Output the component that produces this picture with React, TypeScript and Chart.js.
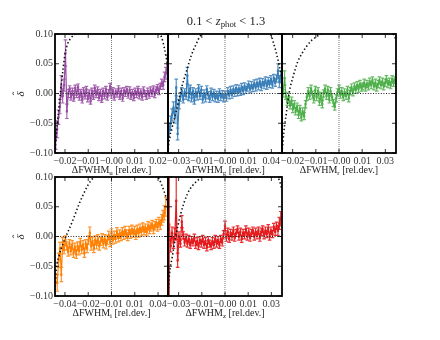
import React, { useEffect, useRef } from "react";
import { Chart, registerables } from "chart.js";
Chart.register(...registerables);

const FONT = "'Liberation Serif', 'DejaVu Serif', serif";

// ---------- shared y axis ----------
const yTickValues = [-0.1, -0.05, 0, 0.05, 0.1];
const yTickLabels = ["−0.10", "−0.05", "0.00", "0.05", "0.10"];

// ---------- panel u (purple) ----------
const uRange = [-0.0243, 0.0243];
const uTicks = [-0.02, -0.01, 0, 0.01, 0.02];
const uTickLabels = ["−0.02", "−0.01", "−0.00", "0.01", "0.02"];
const uX = [
  -0.0240,-0.0234,-0.0228,-0.0222,-0.0216,-0.0210,-0.0204,-0.0198,-0.0192,-0.0186,
  -0.0180,-0.0174,-0.0168,-0.0162,-0.0156,-0.0150,-0.0144,-0.0138,-0.0132,-0.0126,
  -0.0120,-0.0114,-0.0108,-0.0102,-0.0096,-0.0090,-0.0084,-0.0078,-0.0072,-0.0066,
  -0.0060,-0.0054,-0.0048,-0.0042,-0.0036,-0.0030,-0.0024,-0.0018,-0.0012,-0.0006,
  0.0000,0.0006,0.0012,0.0018,0.0024,0.0030,0.0036,0.0042,0.0048,0.0054,
  0.0060,0.0066,0.0072,0.0078,0.0084,0.0090,0.0096,0.0102,0.0108,0.0114,
  0.0120,0.0126,0.0132,0.0138,0.0144,0.0150,0.0156,0.0162,0.0168,0.0174,
  0.0180,0.0186,0.0192,0.0198,0.0204,0.0210,0.0216,0.0222,0.0228,0.0234,
  0.0240];
const uY = [
  -0.078,-0.060,-0.040,-0.022,0.012,-0.004,0.014,0.068,-0.030,0.000,
  0.008,-0.006,0.004,-0.008,0.009,-0.002,0.011,-0.006,0.002,-0.011,
  0.005,-0.004,0.007,-0.009,0.001,-0.013,0.004,-0.005,0.009,-0.002,
  0.006,-0.007,0.002,-0.010,0.004,-0.004,0.007,-0.006,0.001,0.012,
  -0.003,0.005,-0.006,0.003,-0.001,0.008,-0.005,0.004,-0.008,0.005,
  0.000,0.007,-0.003,0.006,-0.005,0.002,-0.007,0.004,-0.002,0.007,
  -0.004,0.003,-0.006,0.006,0.000,-0.005,0.004,-0.003,0.006,0.000,
  0.008,-0.002,0.006,0.010,0.003,0.012,0.018,0.014,0.028,0.034,
  0.050];
const uErr = [
  0.016,0.014,0.012,0.012,0.018,0.012,0.010,0.022,0.012,0.007,
  0.005,0.005,0.005,0.005,0.005,0.005,0.005,0.005,0.005,0.005,
  0.005,0.005,0.005,0.005,0.005,0.005,0.005,0.005,0.005,0.005,
  0.005,0.005,0.005,0.005,0.005,0.005,0.005,0.005,0.005,0.005,
  0.005,0.005,0.005,0.005,0.005,0.005,0.005,0.005,0.005,0.005,
  0.005,0.005,0.005,0.005,0.005,0.005,0.005,0.005,0.005,0.005,
  0.005,0.005,0.005,0.005,0.005,0.005,0.005,0.005,0.005,0.005,
  0.005,0.005,0.005,0.005,0.005,0.005,0.006,0.007,0.008,0.010,
  0.014];
const uCurveX = [-0.0243,-0.0238,-0.0230,-0.0223,-0.0216,-0.0208,-0.0200,-0.0190,-0.0175,-0.0160,-0.0120,-0.0060,0.0000,0.0060,0.0120,0.0170,0.0200,0.0215,0.0228,0.0243];
const uCurveY = [-0.100,-0.070,-0.040,-0.012,0.015,0.042,0.066,0.082,0.093,0.099,0.108,0.115,0.118,0.117,0.112,0.105,0.101,0.095,0.075,0.045];

// ---------- panel g (blue) ----------
const gRange = [-0.045, 0.045];
const gTicks = [-0.0366, -0.0183, 0, 0.0183, 0.0366];
const gTickLabels = ["−0.03", "−0.01", "−0.00", "0.01", "0.04"];
const gX = [
  -0.0440,-0.0429,-0.0418,-0.0407,-0.0396,-0.0385,-0.0374,-0.0363,-0.0352,-0.0341,
  -0.0330,-0.0319,-0.0308,-0.0297,-0.0286,-0.0275,-0.0264,-0.0253,-0.0242,-0.0231,
  -0.0220,-0.0209,-0.0198,-0.0187,-0.0176,-0.0165,-0.0154,-0.0143,-0.0132,-0.0121,
  -0.0110,-0.0099,-0.0088,-0.0077,-0.0066,-0.0055,-0.0044,-0.0033,-0.0022,-0.0011,
  0.0000,0.0011,0.0022,0.0033,0.0044,0.0055,0.0066,0.0077,0.0088,0.0099,
  0.0110,0.0121,0.0132,0.0143,0.0154,0.0165,0.0176,0.0187,0.0198,0.0209,
  0.0220,0.0231,0.0242,0.0253,0.0264,0.0275,0.0286,0.0297,0.0308,0.0319,
  0.0330,0.0341,0.0352,0.0363,0.0374,0.0385,0.0396,0.0407,0.0418,0.0429,
  0.0440];
const gY = [
  -0.062,-0.050,-0.036,-0.024,-0.040,0.010,-0.068,-0.018,-0.006,0.004,
  -0.010,0.002,-0.004,0.030,-0.006,0.008,-0.008,0.004,-0.012,0.002,
  -0.005,0.009,-0.004,0.006,-0.010,0.000,-0.008,0.007,-0.003,-0.009,
  0.003,-0.006,0.001,-0.008,-0.002,-0.009,0.002,-0.006,-0.001,-0.008,
  -0.002,-0.007,0.004,-0.003,0.006,-0.002,0.007,0.001,0.009,0.002,
  0.008,0.003,0.011,0.004,0.012,0.006,0.010,0.015,0.007,0.014,
  0.009,0.017,0.010,0.018,0.012,0.020,0.011,0.019,0.014,0.022,
  0.013,0.021,0.016,0.024,0.015,0.026,0.018,0.025,0.038,0.020,
  0.028];
const gErr = [
  0.012,0.012,0.010,0.010,0.010,0.014,0.010,0.008,0.007,0.006,
  0.006,0.006,0.006,0.014,0.006,0.006,0.006,0.006,0.006,0.006,
  0.006,0.006,0.006,0.006,0.006,0.006,0.006,0.006,0.006,0.006,
  0.006,0.006,0.006,0.006,0.006,0.006,0.006,0.006,0.006,0.006,
  0.006,0.006,0.006,0.006,0.006,0.006,0.006,0.006,0.006,0.006,
  0.006,0.006,0.006,0.006,0.006,0.006,0.006,0.006,0.006,0.006,
  0.006,0.006,0.006,0.006,0.006,0.006,0.006,0.006,0.006,0.006,
  0.006,0.006,0.006,0.006,0.006,0.006,0.006,0.006,0.012,0.010,
  0.010];
const gCurveX = [-0.0450,-0.0443,-0.0415,-0.0386,-0.0345,-0.0306,-0.0266,-0.0230,-0.0200,-0.0150,0.0000,0.0150,0.0300,0.0363,0.0383,0.0403,0.0427,0.0450];
const gCurveY = [-0.100,-0.082,-0.055,-0.031,0.008,0.036,0.064,0.082,0.095,0.106,0.118,0.114,0.104,0.098,0.085,0.070,0.048,0.025];

// ---------- panel r (green) ----------
const rRange = [-0.031, 0.031];
const rTicks = [-0.0252, -0.0126, 0, 0.0126, 0.0252];
const rTickLabels = ["−0.02", "−0.01", "−0.00", "0.01", "0.03"];
const rX = [
  -0.0304,-0.0296,-0.0289,-0.0281,-0.0274,-0.0266,-0.0258,-0.0251,-0.0243,-0.0236,
  -0.0228,-0.0220,-0.0213,-0.0205,-0.0198,-0.0190,-0.0182,-0.0175,-0.0167,-0.0160,
  -0.0152,-0.0144,-0.0137,-0.0129,-0.0122,-0.0114,-0.0106,-0.0099,-0.0091,-0.0084,
  -0.0076,-0.0068,-0.0061,-0.0053,-0.0046,-0.0038,-0.0030,-0.0023,-0.0015,-0.0008,
  0.0000,0.0008,0.0015,0.0023,0.0030,0.0038,0.0046,0.0053,0.0061,0.0068,
  0.0076,0.0084,0.0091,0.0099,0.0106,0.0114,0.0122,0.0129,0.0137,0.0144,
  0.0152,0.0160,0.0167,0.0175,0.0182,0.0190,0.0198,0.0205,0.0213,0.0220,
  0.0228,0.0236,0.0243,0.0251,0.0258,0.0266,0.0274,0.0281,0.0289,0.0296,
  0.0304];
const rY = [
  0.000,0.026,-0.004,-0.014,-0.006,-0.020,-0.012,-0.026,-0.018,-0.030,
  -0.022,-0.036,-0.026,-0.040,-0.030,-0.038,-0.018,-0.006,0.004,-0.004,
  0.008,-0.002,-0.010,0.006,-0.006,0.004,-0.014,-0.004,-0.018,0.000,
  0.008,-0.004,0.006,-0.010,0.004,-0.006,-0.016,-0.022,-0.008,0.002,
  0.008,-0.002,0.004,-0.006,0.002,-0.004,0.006,-0.008,0.004,0.010,
  0.002,0.012,0.006,0.014,0.008,0.016,0.010,0.012,0.018,0.010,
  0.016,0.012,0.020,0.014,0.022,0.012,0.018,0.010,0.016,0.022,
  0.014,0.020,0.012,0.018,0.024,0.016,0.020,0.014,0.024,0.018,
  0.022];
const rErr = [
  0.006,0.012,0.006,0.006,0.006,0.006,0.006,0.006,0.006,0.006,
  0.006,0.006,0.006,0.006,0.006,0.006,0.006,0.006,0.006,0.006,
  0.006,0.006,0.006,0.006,0.006,0.006,0.006,0.006,0.006,0.006,
  0.006,0.006,0.006,0.006,0.006,0.006,0.006,0.006,0.006,0.006,
  0.006,0.006,0.006,0.006,0.006,0.006,0.006,0.006,0.006,0.006,
  0.006,0.006,0.006,0.006,0.006,0.006,0.006,0.006,0.006,0.006,
  0.006,0.006,0.006,0.006,0.006,0.006,0.006,0.006,0.006,0.006,
  0.006,0.006,0.006,0.006,0.006,0.006,0.006,0.006,0.006,0.006,
  0.006];
const rCurveX = [-0.0310,-0.0300,-0.0285,-0.0270,-0.0248,-0.0225,-0.0200,-0.0179,-0.0150,-0.0124,-0.0097,0.0000,0.0150,0.0280,0.0300,0.0310];
const rCurveY = [-0.100,-0.065,-0.030,0.003,0.030,0.053,0.068,0.078,0.089,0.095,0.100,0.112,0.112,0.104,0.098,0.090];

// ---------- panel i (orange) ----------
const iRange = [-0.05, 0.05];
const iTicks = [-0.0412, -0.0206, 0, 0.0206, 0.0412];
const iTickLabels = ["−0.04", "−0.02", "−0.01", "0.01", "0.04"];
const iX = [
  -0.0480,-0.0468,-0.0456,-0.0444,-0.0432,-0.0420,-0.0408,-0.0396,-0.0384,-0.0372,
  -0.0360,-0.0348,-0.0336,-0.0324,-0.0312,-0.0300,-0.0288,-0.0276,-0.0264,-0.0252,
  -0.0240,-0.0228,-0.0216,-0.0204,-0.0192,-0.0180,-0.0168,-0.0156,-0.0144,-0.0132,
  -0.0120,-0.0108,-0.0096,-0.0084,-0.0072,-0.0060,-0.0048,-0.0036,-0.0024,-0.0012,
  0.0000,0.0012,0.0024,0.0036,0.0048,0.0060,0.0072,0.0084,0.0096,0.0108,
  0.0120,0.0132,0.0144,0.0156,0.0168,0.0180,0.0192,0.0204,0.0216,0.0228,
  0.0240,0.0252,0.0264,0.0276,0.0288,0.0300,0.0312,0.0324,0.0336,0.0348,
  0.0360,0.0372,0.0384,0.0396,0.0408,0.0420,0.0432,0.0444,0.0456,0.0468,
  0.0480];
const iY = [
  -0.078,-0.040,-0.020,-0.064,-0.010,-0.022,-0.006,-0.016,-0.026,-0.012,
  -0.024,-0.014,-0.028,-0.018,-0.030,-0.016,-0.024,-0.010,-0.022,-0.014,
  -0.028,-0.012,-0.020,-0.006,0.006,-0.016,-0.008,-0.020,-0.006,-0.014,
  -0.004,-0.016,-0.008,-0.002,-0.012,-0.004,-0.014,-0.006,0.002,-0.010,
  0.006,-0.006,0.002,-0.004,0.008,-0.002,0.004,0.000,0.008,0.002,
  0.010,0.004,0.000,0.010,0.004,0.012,0.006,0.010,0.002,0.012,
  0.006,0.014,0.008,0.016,0.010,0.014,0.008,0.018,0.012,0.016,
  0.020,0.012,0.018,0.022,0.016,0.024,0.020,0.028,0.034,0.040,
  0.050];
const iErr = [
  0.014,0.012,0.010,0.012,0.008,0.007,0.007,0.007,0.007,0.007,
  0.007,0.007,0.007,0.007,0.007,0.007,0.007,0.007,0.007,0.007,
  0.007,0.007,0.007,0.007,0.010,0.007,0.007,0.007,0.007,0.007,
  0.007,0.007,0.007,0.007,0.007,0.007,0.007,0.007,0.007,0.007,
  0.007,0.007,0.007,0.007,0.007,0.007,0.007,0.007,0.007,0.007,
  0.007,0.007,0.007,0.007,0.007,0.007,0.007,0.007,0.007,0.007,
  0.007,0.007,0.007,0.007,0.007,0.007,0.007,0.007,0.007,0.007,
  0.007,0.007,0.007,0.007,0.007,0.008,0.008,0.009,0.010,0.012,
  0.016];
const iCurveX = [-0.0500,-0.0488,-0.0462,-0.0433,-0.0403,-0.0345,-0.0286,-0.0226,-0.0182,-0.0120,0.0000,0.0200,0.0380,0.0421,0.0445,0.0465,0.0500];
const iCurveY = [-0.090,-0.055,-0.031,-0.014,0.000,0.026,0.055,0.080,0.094,0.105,0.115,0.114,0.104,0.097,0.086,0.076,0.055];

// ---------- panel z (red) ----------
const zRange = [-0.045, 0.045];
const zTicks = [-0.0366, -0.0183, 0, 0.0183, 0.0366];
const zTickLabels = ["−0.03", "−0.01", "−0.00", "0.01", "0.03"];
const zX = [
  -0.0440,-0.0429,-0.0418,-0.0407,-0.0396,-0.0385,-0.0374,-0.0363,-0.0352,-0.0341,
  -0.0330,-0.0319,-0.0308,-0.0297,-0.0286,-0.0275,-0.0264,-0.0253,-0.0242,-0.0231,
  -0.0220,-0.0209,-0.0198,-0.0187,-0.0176,-0.0165,-0.0154,-0.0143,-0.0132,-0.0121,
  -0.0110,-0.0099,-0.0088,-0.0077,-0.0066,-0.0055,-0.0044,-0.0033,-0.0022,-0.0011,
  0.0000,0.0011,0.0022,0.0033,0.0044,0.0055,0.0066,0.0077,0.0088,0.0099,
  0.0110,0.0121,0.0132,0.0143,0.0154,0.0165,0.0176,0.0187,0.0198,0.0209,
  0.0220,0.0231,0.0242,0.0253,0.0264,0.0275,0.0286,0.0297,0.0308,0.0319,
  0.0330,0.0341,0.0352,0.0363,0.0374,0.0385,0.0396,0.0407,0.0418,0.0429,
  0.0440];
const zY = [
  0.020,-0.016,0.006,-0.010,0.004,0.060,-0.040,0.000,-0.012,0.025,
  0.002,-0.010,-0.002,-0.012,-0.004,-0.014,-0.006,-0.010,-0.002,-0.014,
  -0.008,-0.016,-0.006,-0.012,-0.004,-0.014,-0.008,-0.018,-0.006,-0.012,
  -0.016,-0.008,-0.014,-0.004,-0.012,-0.006,-0.014,-0.004,-0.010,0.004,
  0.018,-0.002,0.008,-0.004,0.006,0.000,0.010,-0.002,0.006,0.012,
  0.000,0.008,-0.004,0.006,0.002,0.012,0.000,0.008,-0.002,0.006,
  0.010,0.000,0.008,0.002,0.010,-0.002,0.008,0.012,0.002,0.010,
  0.004,0.014,0.000,0.010,0.004,0.016,0.008,0.018,0.010,0.022,
  0.030];
const zErr = [
  0.150,0.010,0.010,0.010,0.010,0.065,0.012,0.008,0.006,0.010,
  0.006,0.006,0.006,0.006,0.006,0.006,0.006,0.006,0.006,0.006,
  0.006,0.006,0.006,0.006,0.006,0.006,0.006,0.006,0.006,0.006,
  0.006,0.006,0.006,0.006,0.006,0.006,0.006,0.006,0.006,0.006,
  0.008,0.006,0.006,0.006,0.006,0.006,0.006,0.006,0.006,0.006,
  0.006,0.006,0.006,0.006,0.006,0.006,0.006,0.006,0.006,0.006,
  0.006,0.006,0.006,0.006,0.006,0.006,0.006,0.006,0.006,0.006,
  0.006,0.006,0.006,0.006,0.006,0.006,0.006,0.006,0.008,0.010,
  0.012];
const zCurveX = [-0.0450,-0.0438,-0.0417,-0.0391,-0.0351,-0.0298,-0.0258,-0.0206,-0.0150,0.0000,0.0200,0.0400,0.0430,0.0450];
const zCurveY = [-0.100,-0.063,-0.035,-0.002,0.037,0.071,0.085,0.096,0.105,0.115,0.114,0.104,0.094,0.078];

// ---------- layout (pixel boxes of plot areas: left, top, right, bottom) ----------
const panels = [
  { band: "u", xs: uX, ys: uY, errs: uErr, cx: uCurveX, cy: uCurveY, range: uRange, ticks: uTicks, labels: uTickLabels, color: "#984ea3", err: "rgba(152,78,163,0.85)", box: [55, 34, 168, 153], showY: true },
  { band: "g", xs: gX, ys: gY, errs: gErr, cx: gCurveX, cy: gCurveY, range: gRange, ticks: gTicks, labels: gTickLabels, color: "#377eb8", err: "rgba(55,126,184,0.85)", box: [168, 34, 282, 153], showY: false },
  { band: "r", xs: rX, ys: rY, errs: rErr, cx: rCurveX, cy: rCurveY, range: rRange, ticks: rTicks, labels: rTickLabels, color: "#4daf4a", err: "rgba(77,175,74,0.85)", box: [282, 34, 396, 153], showY: false },
  { band: "i", xs: iX, ys: iY, errs: iErr, cx: iCurveX, cy: iCurveY, range: iRange, ticks: iTicks, labels: iTickLabels, color: "#ff7f00", err: "rgba(255,127,0,0.85)", box: [55, 177, 168, 296], showY: true },
  { band: "z", xs: zX, ys: zY, errs: zErr, cx: zCurveX, cy: zCurveY, range: zRange, ticks: zTicks, labels: zTickLabels, color: "#e41a1c", err: "rgba(228,26,28,0.9)", box: [168, 177, 282, 296], showY: false },
];

const W = 440;
const H = 340;
const Y_AXIS_W = 30;
const X_AXIS_H = 14;

const errorBarPlugin = {
  id: "errorBars",
  beforeDatasetsDraw(chart: any) {
    const { ctx, chartArea: ca } = chart;
    const xs = chart.scales.x;
    const ys = chart.scales.y;
    ctx.save();
    ctx.beginPath();
    ctx.rect(ca.left, ca.top, ca.right - ca.left, ca.bottom - ca.top);
    ctx.clip();
    chart.data.datasets.forEach((ds: any) => {
      if (!ds.errors) return;
      ctx.strokeStyle = ds.errorColor;
      ctx.lineWidth = 1.2;
      ds.data.forEach((p: any, i: number) => {
        const e = ds.errors[i];
        const px = xs.getPixelForValue(p.x);
        const y1 = ys.getPixelForValue(p.y - e);
        const y2 = ys.getPixelForValue(p.y + e);
        ctx.beginPath();
        ctx.moveTo(px, y1);
        ctx.lineTo(px, y2);
        ctx.moveTo(px - 1.8, y1);
        ctx.lineTo(px + 1.8, y1);
        ctx.moveTo(px - 1.8, y2);
        ctx.lineTo(px + 1.8, y2);
        ctx.stroke();
      });
    });
    ctx.restore();
  },
};

function makeFramePlugin(xTicks: number[]) {
  return {
    id: "frame",
    afterDraw(chart: any) {
      const { ctx, chartArea: ca } = chart;
      const xs = chart.scales.x;
      const ys = chart.scales.y;
      ctx.save();
      ctx.strokeStyle = "#000";
      ctx.lineWidth = 0.8;
      ctx.beginPath();
      xTicks.forEach((v) => {
        const p = xs.getPixelForValue(v);
        ctx.moveTo(p, ca.bottom);
        ctx.lineTo(p, ca.bottom - 4);
        ctx.moveTo(p, ca.top);
        ctx.lineTo(p, ca.top + 4);
      });
      yTickValues.forEach((v) => {
        const p = ys.getPixelForValue(v);
        ctx.moveTo(ca.left, p);
        ctx.lineTo(ca.left + 4, p);
        ctx.moveTo(ca.right, p);
        ctx.lineTo(ca.right - 4, p);
      });
      ctx.stroke();
      ctx.lineWidth = 1.8;
      ctx.strokeRect(ca.left, ca.top, ca.right - ca.left, ca.bottom - ca.top);
      ctx.restore();
    },
  };
}

function Panel({ p }: { p: any }) {
  const ref = useRef<HTMLCanvasElement>(null);
  useEffect(() => {
    const canvas = ref.current;
    if (!canvas) return;
    const [L, T, R, B] = p.box;
    const chart = new Chart(canvas, {
      type: "line",
      data: {
        datasets: [
          {
            data: p.cx.map((x: number, i: number) => ({ x, y: p.cy[i] })),
            borderColor: "#111",
            borderWidth: 1.6,
            borderDash: [1.4, 2.4],
            pointRadius: 0,
            cubicInterpolationMode: "monotone",
            clip: 0,
          },
          {
            data: [{ x: p.range[0], y: 0 }, { x: p.range[1], y: 0 }],
            borderColor: "#222",
            borderWidth: 1,
            borderDash: [1, 1.6],
            pointRadius: 0,
            clip: 0,
          },
          {
            data: [{ x: 0, y: yTickValues[0] }, { x: 0, y: yTickValues[yTickValues.length - 1] }],
            borderColor: "#777",
            borderWidth: 1,
            borderDash: [1, 1],
            pointRadius: 0,
            clip: 0,
          },
          {
            data: p.xs.map((x: number, i: number) => ({ x, y: p.ys[i] })),
            errors: p.errs,
            errorColor: p.err,
            borderColor: p.color,
            borderWidth: 1.2,
            pointRadius: 1.6,
            pointStyle: "rect",
            pointBackgroundColor: p.color,
            pointBorderColor: p.color,
            pointBorderWidth: 0,
            tension: 0,
            clip: 0,
          } as any,
        ],
      },
      options: {
        animation: false,
        responsive: false,
        events: [],
        layout: { padding: { left: L - Y_AXIS_W, top: T, right: W - R, bottom: H - B - X_AXIS_H } },
        plugins: { legend: { display: false }, tooltip: { enabled: false } },
        scales: {
          x: {
            type: "linear",
            min: p.range[0],
            max: p.range[1],
            grid: { display: false, drawTicks: false },
            border: { display: false },
            afterBuildTicks: (s: any) => {
              s.ticks = p.ticks.map((v: number) => ({ value: v }));
            },
            afterFit: (s: any) => {
              s.height = X_AXIS_H;
            },
            ticks: {
              autoSkip: false,
              maxRotation: 0,
              minRotation: 0,
              padding: 2,
              color: "#333",
              font: { family: FONT, size: 10 },
              callback: (_v: any, i: number) => p.labels[i],
            },
          },
          y: {
            type: "linear",
            min: yTickValues[0],
            max: yTickValues[yTickValues.length - 1],
            grid: { display: false, drawTicks: false },
            border: { display: false },
            afterBuildTicks: (s: any) => {
              s.ticks = yTickValues.map((v) => ({ value: v }));
            },
            afterFit: (s: any) => {
              s.width = Y_AXIS_W;
            },
            ticks: {
              display: p.showY,
              autoSkip: false,
              padding: 2,
              color: "#333",
              font: { family: FONT, size: 10 },
              callback: (_v: any, i: number) => yTickLabels[i],
            },
          },
        },
      } as any,
      plugins: [errorBarPlugin, makeFramePlugin(p.ticks)],
    });
    return () => chart.destroy();
  }, [p]);
  return (
    <canvas
      ref={ref}
      width={W}
      height={H}
      style={{ position: "absolute", left: 0, top: 0, width: W, height: H }}
    />
  );
}

const subStyle: React.CSSProperties = { fontSize: "0.7em", verticalAlign: "-0.3em" };

function Text({ x, y, size, children, rotate }: any) {
  return (
    <div
      style={{
        position: "absolute",
        left: x,
        top: y,
        fontFamily: FONT,
        fontSize: size,
        color: "#222",
        whiteSpace: "nowrap",
        lineHeight: 1,
        transform: `translate(-50%, -50%)${rotate ? " rotate(-90deg)" : ""}`,
      }}
    >
      {children}
    </div>
  );
}

function DeltaHat() {
  return (
    <span style={{ position: "relative", display: "inline-block", fontStyle: "italic" }}>
      δ
      <span style={{ position: "absolute", left: "0.12em", top: "-0.38em", fontStyle: "normal" }}>ˆ</span>
    </span>
  );
}

export default function App() {
  return (
    <div style={{ position: "absolute", left: 0, top: 0, width: W, height: H, background: "#fff", overflow: "hidden" }}>
      {panels.map((p) => (
        <Panel key={p.band} p={p} />
      ))}
      <Text x={226} y={22} size={12.5}>
        0.1 &lt; <i>z</i>
        <span style={subStyle}>phot</span> &lt; 1.3
      </Text>
      {panels.map((p) => (
        <Text key={"xl" + p.band} x={(p.box[0] + p.box[2]) / 2} y={p.box[3] + 18} size={10}>
          ΔFWHM<span style={subStyle}>{p.band}</span> [rel.dev.]
        </Text>
      ))}
      {panels
        .filter((p) => p.showY)
        .map((p) => (
          <Text key={"yl" + p.band} x={20} y={(p.box[1] + p.box[3]) / 2} size={11} rotate>
            <DeltaHat />
          </Text>
        ))}
    </div>
  );
}
